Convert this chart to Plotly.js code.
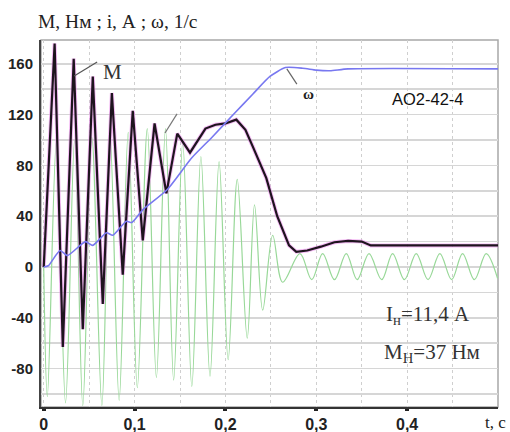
<!DOCTYPE html>
<html><head><meta charset="utf-8">
<script src="https://cdn.plot.ly/plotly-3.0.1.min.js"></script>
<style>html,body{margin:0;padding:0;background:#fff}</style>
</head><body><div id="chart" style="width:510px;height:432px"></div>
<script>
// ---- data ----
const tTorque = [0, 0.012, 0.021, 0.033, 0.043, 0.054, 0.065, 0.075, 0.087, 0.098, 0.109, 0.122, 0.135, 0.147, 0.161, 0.178, 0.189, 0.2, 0.212, 0.222, 0.23, 0.245, 0.257, 0.27, 0.278, 0.29, 0.305, 0.32, 0.335, 0.35, 0.36, 0.5];
const torque  = [0, 176, -63, 164, -49, 150, -29, 137, -6, 123, 21, 113, 58, 105, 90, 109, 112, 113, 116, 108, 95, 70, 40, 17, 12, 13, 16, 19.5, 20.5, 20, 17, 17];

const tSpeed = [0, 0.005, 0.018, 0.026, 0.046, 0.054, 0.069, 0.076, 0.091, 0.097, 0.109, 0.136, 0.163, 0.185, 0.21, 0.23, 0.249, 0.266, 0.285, 0.3, 0.315, 0.335, 0.5];
const speed  = [0, 1, 13, 9, 20, 17, 27, 25, 36, 35, 45, 61, 86, 102, 121, 136, 150, 157, 156.5, 155, 154.5, 156, 156];

const tCurrent = [0, 0.004, 0.014, 0.024, 0.034, 0.043, 0.053, 0.064, 0.073, 0.083, 0.093, 0.103, 0.114, 0.124, 0.134, 0.143, 0.153, 0.163, 0.173, 0.183, 0.193, 0.203, 0.213, 0.224, 0.232, 0.241, 0.252, 0.263, 0.282, 0.295, 0.307, 0.320, 0.333, 0.345, 0.358, 0.372, 0.384, 0.397, 0.410, 0.423, 0.436, 0.449, 0.461, 0.474, 0.487, 0.4995];
const current  = [0, -102, 100, -107, 100, -109, 102, -109, 104, -105, 106, -95, 109, -87, 109, -89, 98, -94, 87, -86, 83, -73, 69, -56, 49, -34, 25, -12, 10.5, -10, 10.5, -10, 10.5, -10, 10.5, -10, 10.5, -10, 10.5, -10, 10.5, -10, 10.5, -10, 10.5, -9];

const xTickVals = [0, 0.1, 0.2, 0.3, 0.4];
const xTickText = ['0', '0,1', '0,2', '0,3', '0,4'];
const yTickVals = [-80, -40, 0, 40, 80, 120, 160];
const yTickText = ['-80', '-40', '0', '40', '80', '120', '160'];

const traces = [
  {x: tCurrent, y: current, type: 'scatter', mode: 'lines',
   line: {color: '#98d898', width: 1.2, shape: 'spline', smoothing: 1}},
  {x: tTorque, y: torque, type: 'scatter', mode: 'lines',
   line: {color: 'rgba(235,130,235,0.55)', width: 4}},
  {x: tTorque, y: torque, type: 'scatter', mode: 'lines',
   line: {color: '#1e141e', width: 2.2}},
  {x: tSpeed, y: speed, type: 'scatter', mode: 'lines',
   line: {color: '#7878f0', width: 1.6, shape: 'spline', smoothing: 0.6}}
];

const serif = 'Liberation Serif, Times New Roman, serif';
const sans = 'Liberation Sans, Arial, sans-serif';

const layout = {
  width: 510, height: 432,
  margin: {l: 41, r: 12, t: 40, b: 25},
  paper_bgcolor: '#fff', plot_bgcolor: '#fff',
  showlegend: false,
  title: {text: 'М, Нм ; i, А ; ω, 1/с', x: 38/510, xanchor: 'left', xref: 'container',
          y: 1 - 21/432, yanchor: 'middle', yref: 'container',
          font: {family: serif, size: 19.5, color: '#222'}},
  xaxis: {range: [-0.003, 0.5], tickvals: xTickVals, ticktext: xTickText,
          showgrid: true, gridcolor: '#cfcfcf', griddash: 'dot', gridwidth: 1,
          minor: {dtick: 0.05, tick0: 0, showgrid: true, gridcolor: '#cfcfcf', griddash: 'dot', gridwidth: 1},
          zeroline: false, showline: true, linecolor: '#333', linewidth: 2,
          ticks: 'outside', ticklen: 2, tickwidth: 4, tickcolor: '#222',
          tickfont: {family: sans, size: 16, color: '#222', weight: 'bold'}},
  yaxis: {range: [-110.2, 178.7], tickvals: yTickVals, ticktext: yTickText,
          showgrid: true, gridcolor: '#d6d6d6', gridwidth: 1.5,
          minor: {dtick: 20, tick0: 0, showgrid: true, gridcolor: '#d6d6d6', gridwidth: 1.5},
          zeroline: false, showline: true, linecolor: '#444', linewidth: 2,
          ticks: '', ticklabelstandoff: 3,
          tickfont: {family: sans, size: 15, color: '#222', weight: 'bold'}},
  shapes: [
    {type: 'rect', xref: 'paper', yref: 'paper', x0: 0, x1: 1, y0: 0, y1: 1,
     line: {color: '#a8a8a8', width: 1.5}, layer: 'below'},
    {type: 'line', xref: 'x', yref: 'y', x0: 0.0335, y0: 150.4, x1: 0.0588, y1: 161.4,
     line: {color: '#555', width: 1.2}},
    {type: 'line', xref: 'x', yref: 'y', x0: 0.1335, y0: 105.5, x1: 0.1467, y1: 120.5,
     line: {color: '#777', width: 1.2}},
    {type: 'line', xref: 'x', yref: 'y', x0: 0.2676, y0: 156, x1: 0.2786, y1: 144,
     line: {color: '#666', width: 1.2}}
  ],
  annotations: [
    {text: 'M', x: 0.0753, y: 153.5, xref: 'x', yref: 'y', showarrow: false,
     font: {family: serif, size: 21, color: '#333'}},
    {text: 'ω', x: 0.291, y: 136, xref: 'x', yref: 'y', showarrow: false,
     font: {family: serif, size: 15, color: '#222', weight: 'bold'}},
    {text: 'AO2-42-4', x: 0.4225, y: 132, xref: 'x', yref: 'y', showarrow: false,
     font: {family: sans, size: 16.5, color: '#111'}},
    {text: 'I<sub>н</sub>=11,4 А', x: 0.4225, y: -37.8, xref: 'x', yref: 'y', showarrow: false,
     font: {family: serif, size: 21, color: '#333'}},
    {text: 'M<sub>Н</sub>=37 Нм', x: 0.427, y: -67.7, xref: 'x', yref: 'y', showarrow: false,
     font: {family: serif, size: 21, color: '#333'}},
    {text: 't, с', x: 0, y: 0, xref: 'paper', yref: 'paper', showarrow: false,
     xanchor: 'center', yanchor: 'middle', font: {family: serif, size: 17, color: '#222'}}
  ]
};
// 't, c' label placed below the plot's right end
layout.annotations[5].x = (495 - 41) / (510 - 41 - 12);
layout.annotations[5].y = (407 - 422) / (432 - 40 - 25);

Plotly.newPlot('chart', traces, layout, {displayModeBar: false, staticPlot: true});
</script></body></html>
